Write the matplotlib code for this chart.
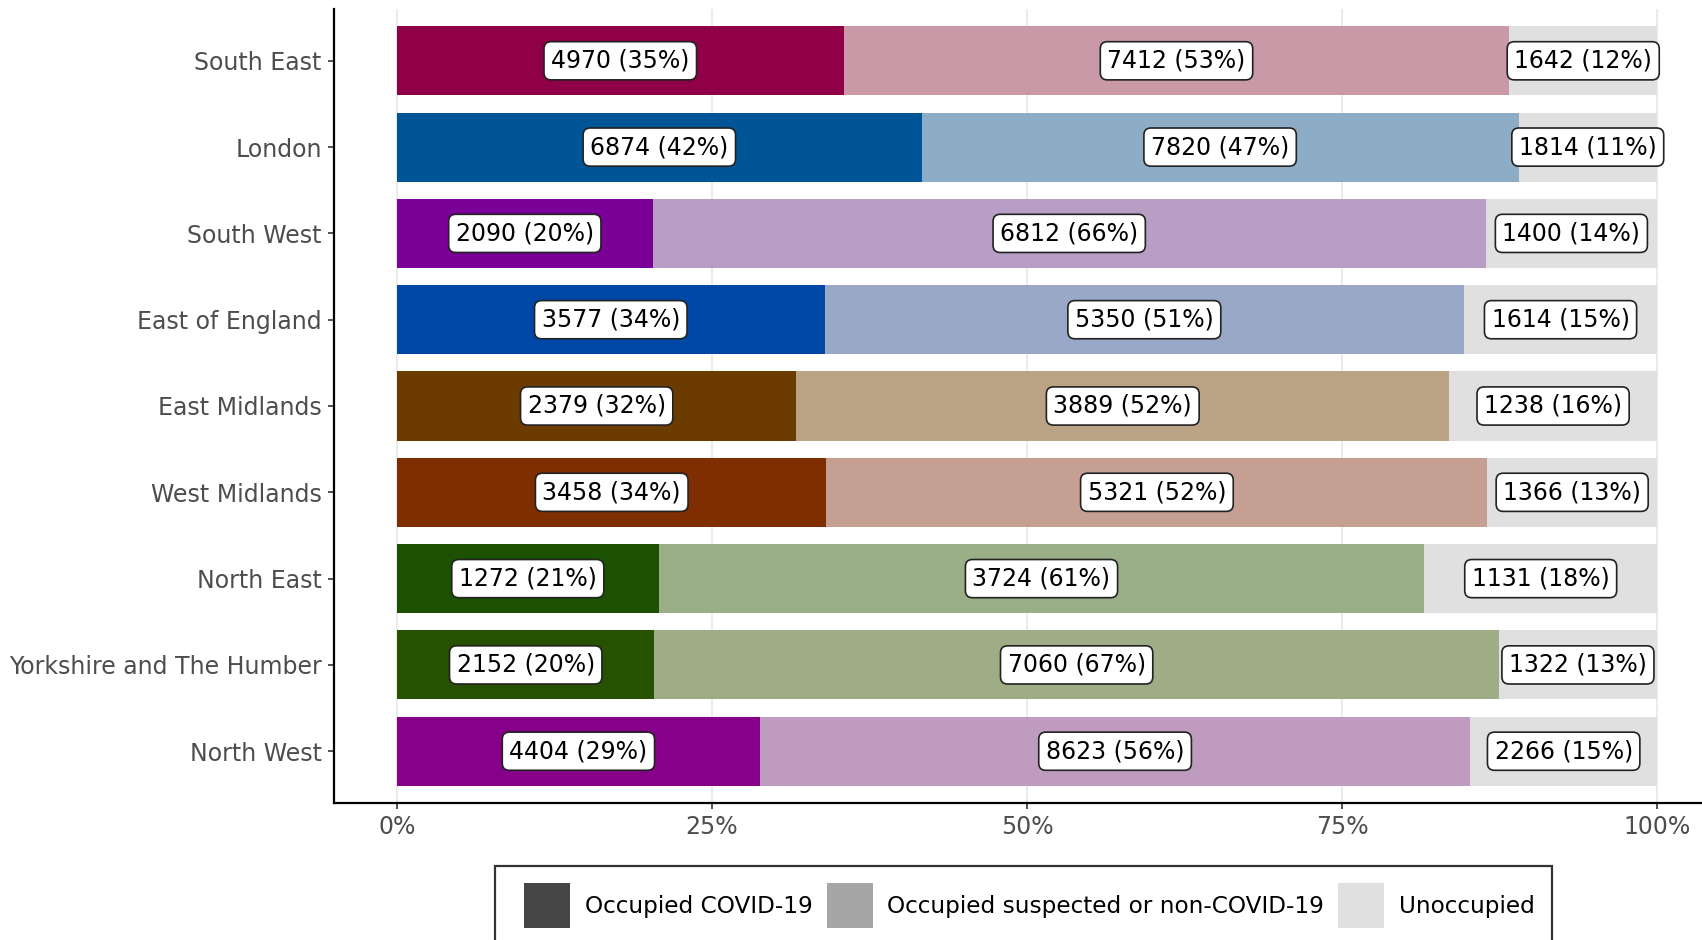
import numpy as np
import matplotlib.pyplot as plt
from matplotlib.patches import Patch, Rectangle
from matplotlib.legend_handler import HandlerPatch

regions = ["South East", "London", "South West", "East of England", "East Midlands",
           "West Midlands", "North East", "Yorkshire and The Humber", "North West"]
covid = [4970, 6874, 2090, 3577, 2379, 3458, 1272, 2152, 4404]
other = [7412, 7820, 6812, 5350, 3889, 5321, 3724, 7060, 8623]
unocc = [1642, 1814, 1400, 1614, 1238, 1366, 1131, 1322, 2266]

dark_cols = ["#8f0046", "#005596", "#7b0097", "#0048a5", "#6b3b00",
             "#7e2e00", "#1b5100", "#265200", "#870089"]
light_cols = ["#c999a7", "#8dacc5", "#b89dc4", "#9aa8c8", "#bba386",
              "#c59f92", "#9aaf88", "#9ead86", "#be9bbf"]
unocc_col = "#e0e0e0"

legend_labels = ["Occupied COVID-19", "Occupied suspected or non-COVID-19", "Unoccupied"]
legend_cols = ["#454545", "#a6a6a6", "#e0e0e0"]

covid = np.array(covid, dtype=float)
other = np.array(other, dtype=float)
unocc = np.array(unocc, dtype=float)
total = covid + other + unocc
p1 = covid / total
p2 = other / total
p3 = unocc / total

fig = plt.figure(figsize=(17.02, 9.40), dpi=100)
ax = fig.add_axes([334/1702, 1-803/940, (1720-334)/1702, (803-9)/940])

ypos = np.arange(len(regions))[::-1] + 1
h = 0.8
ax.barh(ypos, p1, height=h, color=dark_cols, zorder=2)
ax.barh(ypos, p2, left=p1, height=h, color=light_cols, zorder=2)
ax.barh(ypos, p3, left=p1 + p2, height=h, color=unocc_col, zorder=2)

bb = dict(boxstyle="round,pad=0.3,rounding_size=0.3", fc="white", ec="#222222", lw=1.2)
for i in range(len(regions)):
    segs = [(covid[i], p1[i], 0), (other[i], p2[i], p1[i]), (unocc[i], p3[i], p1[i] + p2[i])]
    for n, p, left in segs:
        ax.text(left + p / 2, ypos[i], "%d (%d%%)" % (n, round(p * 100)),
                ha="center", va="center", fontsize=17, color="black", bbox=bb, zorder=3)

ax.set_xlim(-0.05, 1.05)
ax.set_ylim(0.4, len(regions) + 0.6)
ax.set_xticks([0, 0.25, 0.5, 0.75, 1.0])
ax.set_xticklabels(["0%", "25%", "50%", "75%", "100%"])
ax.set_yticks(ypos)
ax.set_yticklabels(regions)
ax.grid(axis="x", color="#ebebeb", lw=1.5, zorder=0)
ax.set_axisbelow(True)
for s in ["top", "right"]:
    ax.spines[s].set_visible(False)
for s in ["left", "bottom"]:
    ax.spines[s].set_linewidth(1.6)
    ax.spines[s].set_color("black")
ax.tick_params(axis="both", labelsize=17, labelcolor="#4d4d4d", color="#333333",
               length=4, width=1.2, pad=4.8)


# legend keys sit a bit inside the frame like in the original
def key_patch(legend, orig_handle, xdescent, ydescent, width, height, fontsize):
    off = 8.6
    return Rectangle((-xdescent + off, -ydescent), width - off, height)


handles = [Patch(facecolor=c, edgecolor="none") for c in legend_cols]
leg = fig.legend(handles, legend_labels, ncol=3, loc="upper left",
                 bbox_to_anchor=(495/1702, 1-866/940), fontsize=16.7, frameon=True,
                 fancybox=False, handlelength=2.49, handleheight=2.6, handletextpad=0.63,
                 columnspacing=0.1, borderpad=0.75, borderaxespad=0,
                 handler_map={Patch: HandlerPatch(patch_func=key_patch)})
leg.get_frame().set_edgecolor("black")
leg.get_frame().set_linewidth(1.6)

fig.savefig("out.png", dpi=100)
